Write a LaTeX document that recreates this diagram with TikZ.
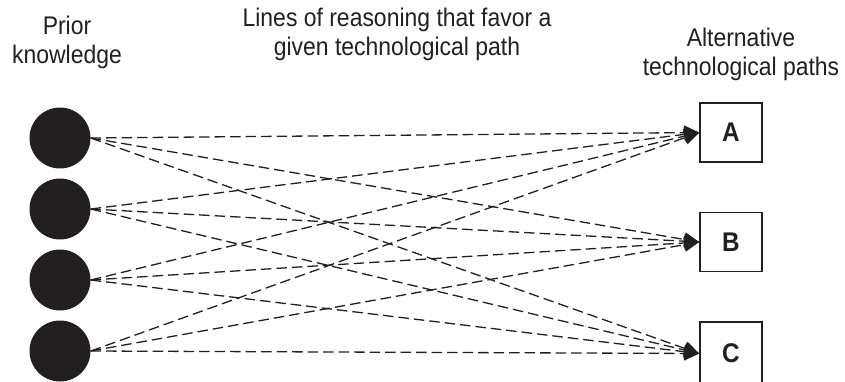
\documentclass[tikz,border=0pt]{standalone}
\usepackage{fontspec}
\setmainfont{Liberation Sans}[FakeStretch=0.9]
\usetikzlibrary{arrows.meta}
\definecolor{ink}{HTML}{231F20}
\begin{document}
\begin{tikzpicture}[x=1pt,y=-1pt,
  dot/.style={circle,fill=ink,draw=none,minimum size=61pt,inner sep=0pt},
  pathbox/.style={draw=ink,line width=1.5pt,minimum width=62pt,minimum height=59pt,inner sep=0pt,font=\fontsize{27}{30}\selectfont\bfseries,text=ink},
  title/.style={align=center,font=\fontsize{25.5}{29}\selectfont,text=ink},
  reason/.style={draw=ink,line width=1.3pt,dash pattern=on 10.5pt off 5pt,-{Triangle[length=15pt,width=14pt]}}
]
\useasboundingbox (0,0) rectangle (845,381);
\node[title] (t1) at (67,42) {Prior\\knowledge};
\node[title] (t2) at (397,34) {Lines of reasoning that favor a\\given technological path};
\node[title] (t3) at (741,54) {Alternative\\technological paths};
\node[dot] (p1) at (60,138) {};
\node[dot] (p2) at (60,209) {};
\node[dot] (p3) at (60,280) {};
\node[dot] (p4) at (60,351) {};
\node[pathbox] (A) at (731,132.5) {A};
\node[pathbox] (B) at (731,242) {B};
\node[pathbox,minimum height=63pt] (C) at (731,353.5) {C};
\foreach \p in {p1,p2,p3,p4}{
  \foreach \b in {A,B,C}{
    \draw[reason] (\p.east) -- (\b.west);
  }
}
\end{tikzpicture}
\end{document}
